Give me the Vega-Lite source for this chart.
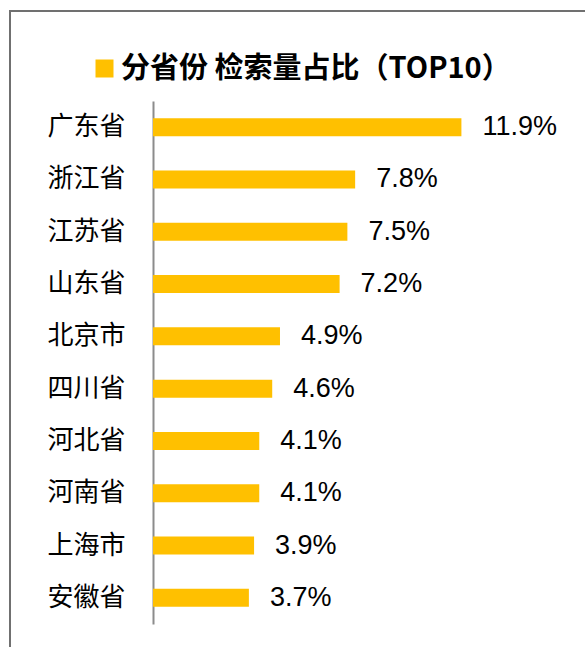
{
  "$schema": "https://vega.github.io/schema/vega-lite/v6.json",
  "width": 590,
  "height": 660,
  "autosize": {"type": "none"},
  "padding": {"left": 10, "top": 11, "right": 0, "bottom": 0},
  "background": "white",
  "config": {"view": {"stroke": "#707070", "strokeWidth": 2}},
  "data": {"values": [
    {"province": "广东省", "share": 0.119, "series": "分省份 检索量占比（TOP10）"},
    {"province": "浙江省", "share": 0.078, "series": "分省份 检索量占比（TOP10）"},
    {"province": "江苏省", "share": 0.075, "series": "分省份 检索量占比（TOP10）"},
    {"province": "山东省", "share": 0.072, "series": "分省份 检索量占比（TOP10）"},
    {"province": "北京市", "share": 0.049, "series": "分省份 检索量占比（TOP10）"},
    {"province": "四川省", "share": 0.046, "series": "分省份 检索量占比（TOP10）"},
    {"province": "河北省", "share": 0.041, "series": "分省份 检索量占比（TOP10）"},
    {"province": "河南省", "share": 0.041, "series": "分省份 检索量占比（TOP10）"},
    {"province": "上海市", "share": 0.039, "series": "分省份 检索量占比（TOP10）"},
    {"province": "安徽省", "share": 0.037, "series": "分省份 检索量占比（TOP10）"}
  ]},
  "encoding": {
    "y": {
      "field": "province", "type": "nominal", "sort": null,
      "scale": {"range": [90, 613]},
      "axis": {
        "title": null, "offset": -143, "ticks": false,
        "domainColor": "#8c8c8c", "domainWidth": 2,
        "labelFont": "Noto Sans CJK SC", "labelFontSize": 26, "labelColor": "#000000",
        "labelPadding": 28
      }
    },
    "x": {
      "field": "share", "type": "quantitative",
      "scale": {"domain": [0, 0.12], "range": [143, 454]},
      "axis": null
    }
  },
  "layer": [
    {
      "mark": {"type": "bar", "size": 18, "color": "#FFC000"},
      "encoding": {
        "color": {
          "field": "series", "type": "nominal",
          "scale": {"range": ["#FFC000"]},
          "legend": {
            "title": null, "orient": "none", "legendX": 80, "legendY": 43,
            "padding": 0,
            "symbolType": "square", "symbolSize": 324, "symbolStrokeWidth": 0,
            "symbolOpacity": 1,
            "labelFont": "Noto Sans CJK SC", "labelFontSize": 29, "labelFontWeight": "bold",
            "labelColor": "#000000", "labelOffset": 2, "labelLimit": 600
          }
        }
      }
    },
    {
      "mark": {"type": "text", "align": "left", "baseline": "middle", "dx": 21,
               "font": "Liberation Sans", "fontSize": 27, "color": "#000000"},
      "encoding": {"text": {"field": "share", "type": "quantitative", "format": ".1%"}}
    }
  ]
}
